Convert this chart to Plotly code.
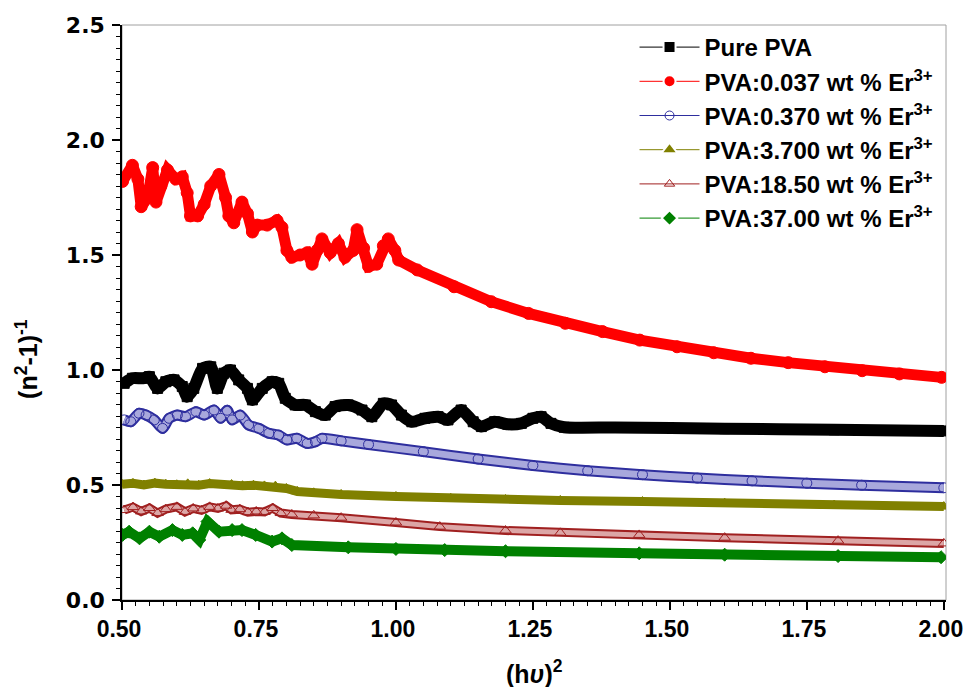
import plotly.graph_objects as go

# Refractive-index dispersion: (n^2-1)^-1 versus (h nu)^2 for PVA films doped with Er3+

pure_x = [0.504, 0.519, 0.538, 0.550, 0.565, 0.580, 0.595, 0.610, 0.619, 0.631, 0.647, 0.662,
          0.674, 0.686, 0.698, 0.713, 0.729, 0.738, 0.756, 0.774, 0.786, 0.798, 0.816, 0.835,
          0.853, 0.871, 0.889, 0.913, 0.938, 0.956, 0.977, 0.992, 1.010, 1.029, 1.053, 1.077,
          1.095, 1.119, 1.141, 1.156, 1.180, 1.204, 1.229, 1.250, 1.265, 1.283, 1.307, 1.400,
          1.600, 1.800, 2.000]
pure_y = [0.942, 0.964, 0.964, 0.971, 0.920, 0.949, 0.957, 0.928, 0.884, 0.920, 1.007, 1.014,
          0.920, 0.986, 1.000, 0.957, 0.920, 0.870, 0.920, 0.949, 0.942, 0.877, 0.848, 0.848,
          0.819, 0.804, 0.841, 0.848, 0.826, 0.797, 0.855, 0.848, 0.804, 0.775, 0.790, 0.797,
          0.783, 0.826, 0.775, 0.754, 0.775, 0.764, 0.768, 0.790, 0.797, 0.768, 0.751, 0.750,
          0.745, 0.740, 0.735]

er0037_x = [0.501, 0.519, 0.529, 0.535, 0.547, 0.556, 0.562, 0.571, 0.583, 0.598, 0.610, 0.619,
            0.625, 0.638, 0.650, 0.662, 0.677, 0.689, 0.695, 0.704, 0.719, 0.729, 0.738, 0.747,
            0.765, 0.783, 0.792, 0.801, 0.810, 0.825, 0.838, 0.847, 0.856, 0.865, 0.880, 0.895,
            0.907, 0.922, 0.929, 0.941, 0.950, 0.965, 0.977, 0.986, 0.998, 1.005, 1.039, 1.106,
            1.174, 1.242, 1.309, 1.377, 1.445, 1.513, 1.580, 1.648, 1.716, 1.783, 1.851, 1.919,
            1.996]
er0037_y = [1.82, 1.89, 1.83, 1.71, 1.75, 1.88, 1.73, 1.80, 1.87, 1.83, 1.84, 1.77,
            1.67, 1.67, 1.72, 1.80, 1.85, 1.75, 1.67, 1.64, 1.73, 1.68, 1.60, 1.63,
            1.63, 1.65, 1.62, 1.52, 1.49, 1.50, 1.51, 1.46, 1.52, 1.57, 1.51, 1.55,
            1.49, 1.52, 1.61, 1.53, 1.45, 1.46, 1.54, 1.57, 1.52, 1.478, 1.435, 1.362,
            1.297, 1.246, 1.203, 1.167, 1.130, 1.101, 1.075, 1.051, 1.032, 1.014, 0.997, 0.983,
            0.968]

er037_x = [0.504, 0.516, 0.531, 0.544, 0.559, 0.574, 0.586, 0.601, 0.616, 0.635, 0.650, 0.668,
           0.680, 0.692, 0.701, 0.716, 0.731, 0.750, 0.768, 0.786, 0.801, 0.819, 0.838, 0.853,
           0.865, 0.900, 0.950, 1.050, 1.150, 1.250, 1.350, 1.450, 1.550, 1.650, 1.750, 1.850,
           2.000]
er037_y = [0.783, 0.775, 0.812, 0.804, 0.783, 0.746, 0.790, 0.804, 0.797, 0.819, 0.804, 0.826,
           0.790, 0.825, 0.783, 0.804, 0.761, 0.746, 0.725, 0.717, 0.696, 0.703, 0.681, 0.688,
           0.703, 0.692, 0.676, 0.645, 0.613, 0.585, 0.562, 0.545, 0.530, 0.518, 0.508, 0.499,
           0.488]

er37_x = [0.50, 0.52, 0.54, 0.56, 0.58, 0.60, 0.62, 0.64, 0.66, 0.68, 0.70, 0.72, 0.74, 0.76,
          0.78, 0.80, 0.82, 0.85, 0.90, 1.00, 1.10, 1.20, 1.30, 1.45, 1.60, 1.80, 2.00]
er37_y = [0.503, 0.507, 0.500, 0.508, 0.503, 0.501, 0.505, 0.499, 0.506, 0.500, 0.502, 0.497,
          0.499, 0.496, 0.495, 0.485, 0.472, 0.466, 0.459, 0.450, 0.442, 0.437, 0.433, 0.428,
          0.421, 0.413, 0.406]

er185_x = [0.504, 0.520, 0.535, 0.550, 0.565, 0.580, 0.600, 0.615, 0.630, 0.645, 0.660, 0.675,
           0.690, 0.700, 0.715, 0.730, 0.745, 0.760, 0.775, 0.790, 0.810, 0.850, 0.900, 1.000,
           1.080, 1.200, 1.300, 1.444, 1.600, 1.807, 2.000]
er185_y = [0.391, 0.404, 0.385, 0.400, 0.378, 0.395, 0.405, 0.383, 0.398, 0.390, 0.405, 0.398,
           0.410, 0.392, 0.395, 0.382, 0.385, 0.383, 0.400, 0.378, 0.372, 0.368, 0.358, 0.337,
           0.319, 0.302, 0.292, 0.283, 0.271, 0.258, 0.246]

er370_x = [0.501, 0.513, 0.532, 0.550, 0.568, 0.592, 0.610, 0.629, 0.641, 0.656, 0.677, 0.701,
           0.719, 0.744, 0.774, 0.792, 0.810, 0.913, 1.000, 1.089, 1.200, 1.444, 1.600, 1.807,
           1.995]
er370_y = [0.283, 0.297, 0.268, 0.297, 0.275, 0.304, 0.283, 0.290, 0.261, 0.341, 0.297, 0.304,
           0.304, 0.283, 0.254, 0.268, 0.239, 0.229, 0.222, 0.217, 0.212, 0.203, 0.197, 0.191,
           0.186]

names = [
    "Pure PVA",
    "PVA:0.037 wt % Er<sup>3+</sup>",
    "PVA:0.370 wt % Er<sup>3+</sup>",
    "PVA:3.700 wt % Er<sup>3+</sup>",
    "PVA:18.50 wt % Er<sup>3+</sup>",
    "PVA:37.00 wt % Er<sup>3+</sup>",
]

x_ticks = [0.50, 0.75, 1.00, 1.25, 1.50, 1.75, 2.00]
x_tick_text = ["0.50", "0.75", "1.00", "1.25", "1.50", "1.75", "2.00"]
y_ticks = [0.0, 0.5, 1.0, 1.5, 2.0, 2.5]
y_tick_text = ["0.0", "0.5", "1.0", "1.5", "2.0", "2.5"]

series = [
    # data x, data y, colour, band width, marker symbol, marker size, hollow inner colour, spline
    (pure_x, pure_y, "#000000", 12, "square", 10, None, True),
    (er0037_x, er0037_y, "#ff0000", 11, "circle", 12, None, False),
    (er037_x, er037_y, "#2e2e9e", 11, "circle-open", 10, "#a8a8dc", True),
    (er37_x, er37_y, "#808000", 9, "triangle-up", 10, None, False),
    (er185_x, er185_y, "#a02020", 9, "triangle-up-open", 10, "#dca6a6", False),
    (er370_x, er370_y, "#008000", 10, "diamond", 10, None, False),
]

fig = go.Figure()

for (xs, ys, color, band, symbol, msize, inner, smooth), name in zip(series, names):
    shape = "spline" if smooth else "linear"
    # thick band tracing the dense run of markers
    fig.add_trace(go.Scatter(
        x=xs, y=ys, mode="lines", showlegend=False, hoverinfo="skip",
        line=dict(color=color, width=band, shape=shape, smoothing=0.6),
    ))
    if inner is not None:
        # lighter core for hollow symbols
        fig.add_trace(go.Scatter(
            x=xs, y=ys, mode="lines", showlegend=False, hoverinfo="skip",
            line=dict(color=inner, width=band - 4, shape=shape, smoothing=0.6),
        ))
    fig.add_trace(go.Scatter(
        x=xs, y=ys, mode="markers", showlegend=False, name=name,
        marker=dict(symbol=symbol, size=msize, color=color,
                    line=dict(color=color, width=1)),
    ))

# legend entries: thin line broken around the series symbol
for (xs, ys, color, band, symbol, msize, inner, smooth), name in zip(series, names):
    hollow = symbol.endswith("-open")
    if hollow:
        leg_marker = dict(symbol=symbol, size=9, color=color, line=dict(color=color, width=1))
    else:
        big = 14 if symbol.startswith("triangle") else 12
        leg_marker = dict(symbol=symbol, size=big, color=color, line=dict(color="white", width=2))
    fig.add_trace(go.Scatter(
        x=[None], y=[None], mode="lines+markers", name="<b>" + name + "</b>",
        line=dict(color=color, width=1), marker=leg_marker,
    ))

fig.update_layout(
    width=966, height=687,
    margin=dict(l=122, r=20, t=25, b=87),
    paper_bgcolor="white", plot_bgcolor="white",
    showlegend=True,
    legend=dict(
        x=0.622, y=1.0, xanchor="left", yanchor="top",
        bgcolor="rgba(0,0,0,0)", borderwidth=0,
        font=dict(family="Liberation Sans, Arial, sans-serif", size=24, color="black"),
        itemwidth=60, tracegroupgap=0,
    ),
    xaxis=dict(
        range=[0.5, 2.004], tickvals=x_ticks, ticktext=x_tick_text,
        showgrid=False, zeroline=False, automargin=False,
        showline=True, linecolor="black", linewidth=1.5,
        ticks="outside", ticklen=8, tickwidth=1.5, tickcolor="black",
        minor=dict(dtick=0.025, ticks="outside", ticklen=4, tickwidth=1, tickcolor="black"),
        tickfont=dict(family="Liberation Sans, Arial, sans-serif", size=23, color="black",
                      weight="bold"),
        ticklabeloverflow="allow", ticklabelshift=-3,
    ),
    yaxis=dict(
        range=[0.0, 2.5], tickvals=y_ticks, ticktext=y_tick_text,
        showgrid=False, zeroline=False, automargin=False,
        showline=True, linecolor="black", linewidth=1.5,
        ticks="outside", ticklen=8, tickwidth=1.5, tickcolor="black",
        minor=dict(dtick=0.05, ticks="outside", ticklen=4, tickwidth=1, tickcolor="black"),
        tickfont=dict(family="DejaVu Sans, sans-serif", size=22, color="black", weight="bold"),
        ticklabelstandoff=3,
    ),
    shapes=[dict(type="rect", xref="paper", yref="paper", x0=0, x1=1, y0=0, y1=1,
                 line=dict(color="#a0a0a0", width=1), layer="below")],
    annotations=[
        dict(text="<b>(n<sup>2</sup>-1)<sup>-1</sup></b>", xref="paper", yref="paper",
             x=-0.116, y=0.42, xanchor="center", yanchor="middle", textangle=-90,
             showarrow=False,
             font=dict(family="Liberation Sans, Arial, sans-serif", size=25, color="black")),
        dict(text="<b>(h<i>υ</i>)<sup>2</sup></b>", xref="paper", yref="paper",
             x=0.5, y=-0.125, xanchor="center", yanchor="middle", showarrow=False,
             font=dict(family="Liberation Sans, Arial, sans-serif", size=25, color="black")),
    ],
)

fig.write_html("out.html")
